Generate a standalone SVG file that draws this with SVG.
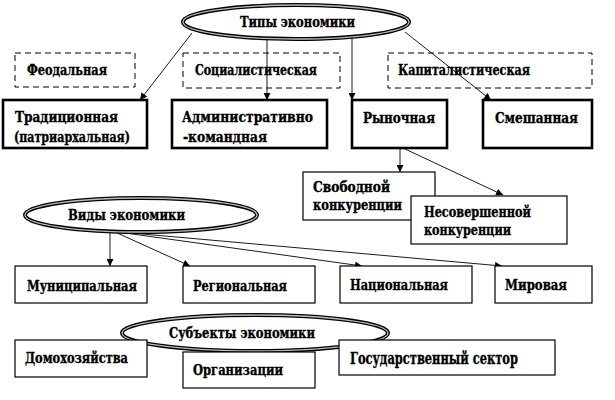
<svg xmlns="http://www.w3.org/2000/svg" width="615" height="400" viewBox="0 0 615 400">
<defs>
<marker id="ah" viewBox="0 0 8 8" refX="8" refY="4" markerWidth="7" markerHeight="7" markerUnits="userSpaceOnUse" orient="auto">
<path d="M0,0 L8,4 L0,8 z" fill="#000"/>
</marker>
<style>
text{font-family:"DejaVu Serif","Liberation Serif",serif;font-weight:bold;font-size:14px;fill:#000;stroke:#000;stroke-width:0.35}
.dash{fill:#fff;stroke:#000;stroke-width:1;stroke-dasharray:6,4}
.thick{fill:#fff;stroke:#000;stroke-width:2.6}
.thin{fill:#fff;stroke:#000;stroke-width:1.2}
.ell{fill:#fff;stroke:#000;stroke-width:4}
.ell2{fill:none;stroke:#bbb;stroke-width:1.3}
.c{fill:none;stroke:#000;stroke-width:0.9;marker-end:url(#ah)}
</style>
</defs>
<rect width="615" height="400" fill="#fff"/>

<g id="feod"><rect class="dash" x="15" y="53" width="120" height="34"/><text x="27" y="75" textLength="80" lengthAdjust="spacingAndGlyphs">Феодальная</text></g>
<g id="soc"><rect class="dash" x="183" y="53" width="157" height="35"/><text x="195" y="75" textLength="122" lengthAdjust="spacingAndGlyphs">Социалистическая</text></g>
<g id="cap"><rect class="dash" x="388" y="53" width="204" height="35"/><text x="398" y="75" textLength="132" lengthAdjust="spacingAndGlyphs">Капиталистическая</text></g>

<g id="connectors">
<line class="c" x1="192" y1="33" x2="140" y2="100"/>
<line class="c" x1="267" y1="39" x2="267" y2="100"/>
<line class="c" x1="352" y1="38" x2="352" y2="100"/>
<line class="c" x1="405" y1="32" x2="491" y2="100"/>
<line class="c" x1="400" y1="148" x2="400" y2="172"/>
<line class="c" x1="403" y1="148" x2="503" y2="195"/>
<line class="c" x1="110" y1="232" x2="110" y2="266"/>
<line class="c" x1="115" y1="232" x2="190" y2="266"/>
<line class="c" x1="118" y1="232" x2="362" y2="266"/>
<line class="c" x1="120" y1="232" x2="502" y2="266"/>
</g>

<g id="tipy"><ellipse class="ell" cx="296" cy="22" rx="113" ry="17"/><ellipse class="ell2" cx="296" cy="22" rx="113" ry="17"/><text x="240" y="27" textLength="115" lengthAdjust="spacingAndGlyphs">Типы экономики</text></g>

<g id="trad"><rect class="thick" x="3" y="100" width="144" height="48"/><text x="15" y="122" textLength="103" lengthAdjust="spacingAndGlyphs">Традиционная</text><text x="14" y="142" textLength="116" lengthAdjust="spacingAndGlyphs">(патриархальная)</text></g>
<g id="adm"><rect class="thick" x="172" y="100" width="155" height="48"/><text x="182" y="122" textLength="131" lengthAdjust="spacingAndGlyphs">Административно</text><text x="183" y="142" textLength="84" lengthAdjust="spacingAndGlyphs">-командная</text></g>
<g id="ryn"><rect class="thick" x="352" y="100" width="95" height="48"/><text x="363" y="123" textLength="72" lengthAdjust="spacingAndGlyphs">Рыночная</text></g>
<g id="sme"><rect class="thick" x="483" y="100" width="109" height="48"/><text x="495" y="123" textLength="83" lengthAdjust="spacingAndGlyphs">Смешанная</text></g>

<g id="svob"><rect class="thin" x="303" y="172" width="132" height="48"/><text x="313" y="192" textLength="77" lengthAdjust="spacingAndGlyphs">Свободной</text><text x="313" y="210" textLength="89" lengthAdjust="spacingAndGlyphs">конкуренции</text></g>
<g id="nesov"><rect class="thin" x="411" y="196" width="156" height="48"/><text x="424" y="217" textLength="107" lengthAdjust="spacingAndGlyphs">Несовершенной</text><text x="424" y="235" textLength="87" lengthAdjust="spacingAndGlyphs">конкуренции</text></g>

<g id="vidy"><ellipse class="ell" cx="141" cy="215" rx="116" ry="17"/><ellipse class="ell2" cx="141" cy="215" rx="116" ry="17"/><text x="68" y="220" textLength="117" lengthAdjust="spacingAndGlyphs">Виды экономики</text></g>

<g id="mun"><rect class="thin" x="15" y="266" width="132" height="37"/><text x="27" y="291" textLength="110" lengthAdjust="spacingAndGlyphs">Муниципальная</text></g>
<g id="reg"><rect class="thin" x="183" y="266" width="132" height="37"/><text x="193" y="291" textLength="94" lengthAdjust="spacingAndGlyphs">Региональная</text></g>
<g id="nac"><rect class="thin" x="340" y="266" width="132" height="37"/><text x="350" y="290" textLength="98" lengthAdjust="spacingAndGlyphs">Национальная</text></g>
<g id="mir"><rect class="thin" x="495" y="266" width="97" height="37"/><text x="505" y="290" textLength="62" lengthAdjust="spacingAndGlyphs">Мировая</text></g>

<g id="subj"><ellipse class="ell" cx="255" cy="333" rx="133" ry="18"/><ellipse class="ell2" cx="255" cy="333" rx="133" ry="18"/><text x="169" y="338" textLength="146" lengthAdjust="spacingAndGlyphs">Субъекты экономики</text></g>

<g id="dom"><rect class="thin" x="15" y="340" width="132" height="37"/><text x="25" y="363" textLength="103" lengthAdjust="spacingAndGlyphs">Домохозяйства</text></g>
<g id="org"><rect class="thin" x="183" y="352" width="132" height="36"/><text x="193" y="375" textLength="90" lengthAdjust="spacingAndGlyphs">Организации</text></g>
<g id="gos"><rect class="thin" x="339" y="340" width="216" height="35"/><text x="350" y="364" textLength="168" lengthAdjust="spacingAndGlyphs" style="font-size:16px">Государственный сектор</text></g>
</svg>
